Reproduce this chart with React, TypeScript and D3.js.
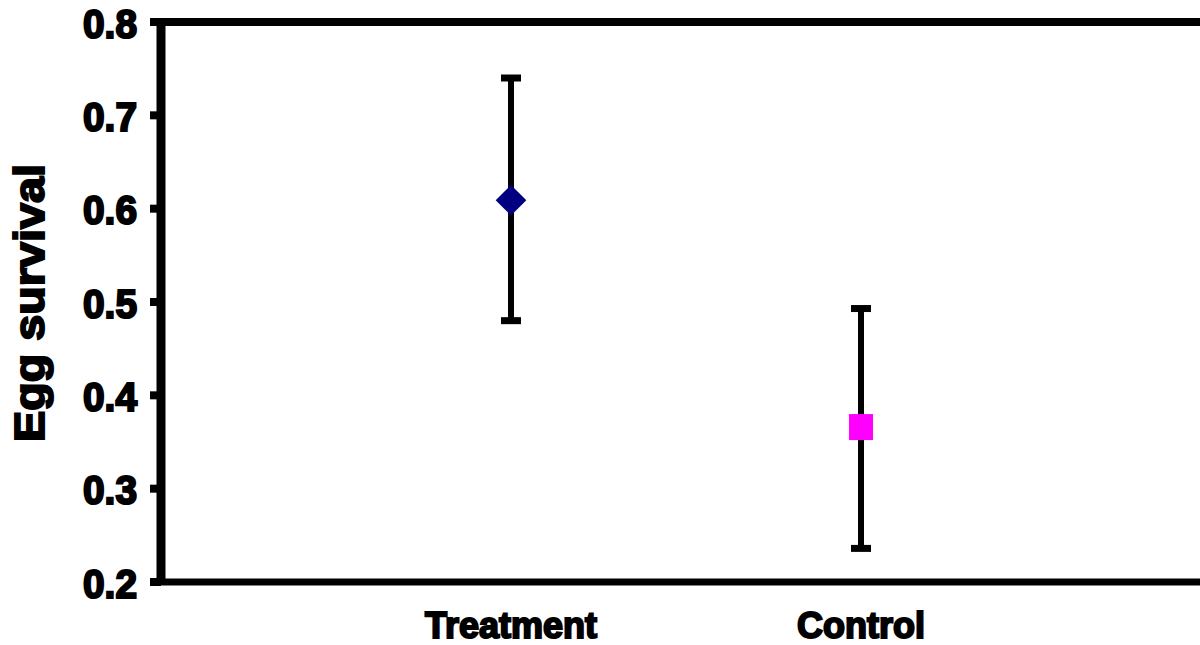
import * as d3 from "d3";
import React from "react";

// groups and their means with error bar limits
const groups = ["Treatment", "Control"];
const means = [0.609, 0.366];
const upper = [0.74, 0.493];
const lower = [0.48, 0.236];
const yTicks = [0.2, 0.3, 0.4, 0.5, 0.6, 0.7, 0.8];

const WIDTH = 1200;
const HEIGHT = 645;
const FONT = "'Liberation Sans', Arial, sans-serif";

export default function App() {
  const x = d3.scaleLinear().domain([0, 3]).range([161, 1211]);
  const y = d3.scaleLinear().domain([0.2, 0.8]).range([582, 22]);

  const diamond = d3.symbol().type(d3.symbolDiamond2).size(600)();

  return (
    <svg
      width={WIDTH}
      height={HEIGHT}
      style={{ position: "absolute", left: 0, top: 0, background: "#fff" }}
    >
      {/* frame */}
      <line x1={150} x2={WIDTH} y1={y(0.8)} y2={y(0.8)} stroke="#000" strokeWidth={8} />
      <line x1={150} x2={WIDTH} y1={y(0.2)} y2={y(0.2)} stroke="#000" strokeWidth={7} />
      <line x1={x(0)} x2={x(0)} y1={y(0.8) - 4} y2={y(0.2)} stroke="#000" strokeWidth={9} />

      {/* y ticks */}
      {yTicks.map((t, i) => (
        <g key={i} transform={`translate(0,${y(t)})`}>
          <line x1={150} x2={x(0)} y1={0} y2={0} stroke="#000" strokeWidth={8} />
          <text
            x={137}
            y={0}
            dy="0.38em"
            textAnchor="end"
            fontFamily={FONT}
            fontWeight="bold"
            fontSize={41}
            stroke="#000"
            strokeWidth={2.2}
            fill="#000"
            textLength={54}
            lengthAdjust="spacingAndGlyphs"
          >
            {t.toFixed(1)}
          </text>
        </g>
      ))}

      {/* y title */}
      <text
        transform={`translate(44,303) rotate(-90)`}
        textAnchor="middle"
        fontFamily={FONT}
        fontWeight="bold"
        fontSize={43}
        stroke="#000"
        strokeWidth={2}
        fill="#000"
        textLength={278}
        lengthAdjust="spacingAndGlyphs"
      >
        Egg survival
      </text>

      {/* category labels */}
      {groups.map((g, i) => (
        <text
          key={g}
          x={x(i + 1)}
          y={638}
          textAnchor="middle"
          fontFamily={FONT}
          fontWeight="bold"
          fontSize={36}
          stroke="#000"
          strokeWidth={2}
          fill="#000"
        >
          {g}
        </text>
      ))}

      {/* error bars */}
      {groups.map((g, i) => {
        const cx = x(i + 1);
        return (
          <g key={g} stroke="#000">
            <line x1={cx} x2={cx} y1={y(upper[i])} y2={y(lower[i])} strokeWidth={6} />
            <line x1={cx - 10} x2={cx + 10} y1={y(upper[i])} y2={y(upper[i])} strokeWidth={7} />
            <line x1={cx - 10} x2={cx + 10} y1={y(lower[i])} y2={y(lower[i])} strokeWidth={7} />
          </g>
        );
      })}

      {/* markers */}
      <path
        d={diamond}
        transform={`translate(${x(1)},${y(means[0])})`}
        fill="#000080"
      />
      <rect
        x={x(2) - 12}
        y={y(means[1]) - 13}
        width={24}
        height={26}
        fill="#ff00ff"
      />
    </svg>
  );
}
